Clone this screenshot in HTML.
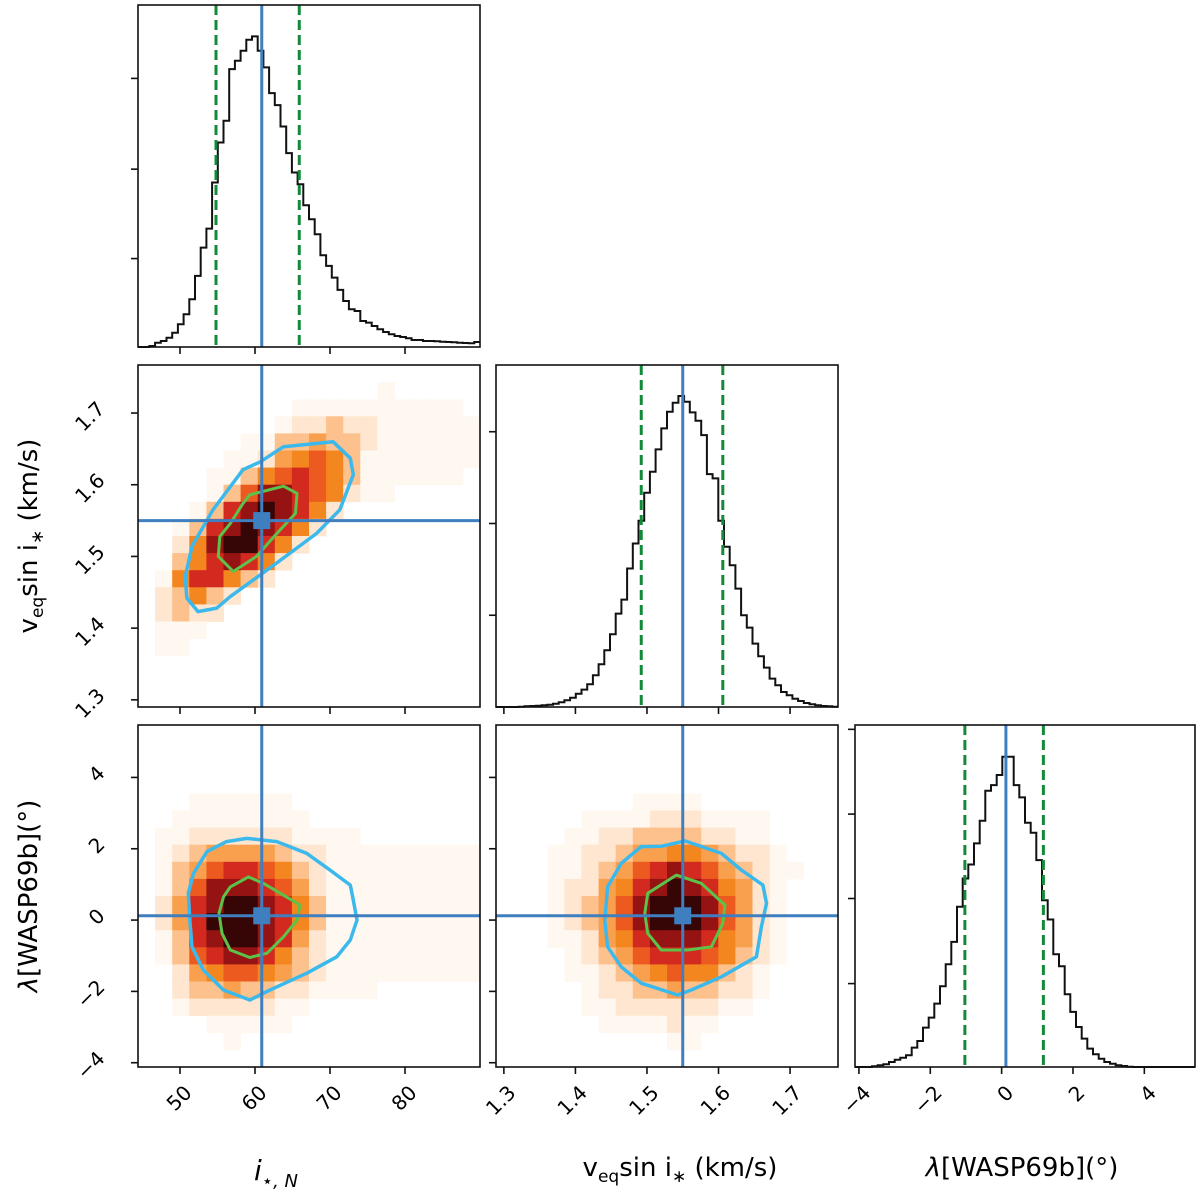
<!DOCTYPE html>
<html><head><meta charset="utf-8"><title>Corner plot</title>
<style>html,body{margin:0;padding:0;background:#fff;}svg{display:block;font-family:"DejaVu Sans","Liberation Sans",sans-serif;}</style>
</head><body>
<svg id="fig" width="1200" height="1196" viewBox="0 0 1200 1196" xmlns="http://www.w3.org/2000/svg">
<g id="heat"></g>
<g id="marks"></g>
<g id="axes"></g>
<text x="276" y="1180" font-size="28" text-anchor="middle" font-style="italic">i<tspan font-size="18" dy="7">⋆, N</tspan></text>
<text x="680" y="1176" font-size="26" text-anchor="middle">v<tspan font-size="17" dy="6">eq</tspan><tspan dy="-6">sin i</tspan><tspan font-size="17" dy="6">∗</tspan><tspan dy="-6"> (km/s)</tspan></text>
<text x="1022" y="1176" font-size="26" text-anchor="middle"><tspan font-style="italic">λ</tspan>[WASP69b](°)</text>
<text transform="translate(37,536) rotate(-90)" font-size="26" text-anchor="middle">v<tspan font-size="17" dy="6">eq</tspan><tspan dy="-6">sin i</tspan><tspan font-size="17" dy="6">∗</tspan><tspan dy="-6"> (km/s)</tspan></text>
<text transform="translate(37,896) rotate(-90)" font-size="26" text-anchor="middle"><tspan font-style="italic">λ</tspan>[WASP69b](°)</text>
</svg>
<script>
// ---------- data ----------
const incTicks = [50, 60, 70, 80];
const vTicks = [1.3, 1.4, 1.5, 1.6, 1.7];
const lamTicks = [-4, -2, 0, 2, 4];
const truthInc = 60.9;
const truthV = 1.55;
const truthLam = 0.12;
const qInc = [54.8, 65.9];
const qV = [1.492, 1.606];
const qLam = [-1.03, 1.17];
const histInc = [0,0,3,13,18,28,43,68,98,143,213,298,355,493,613,678,833,858,888,921,931,888,838,761,725,661,581,523,488,425,383,338,275,243,208,171,138,113,108,78,73,63,53,45,38,33,30,26,21,21,18,18,17,16,15,14,13,12,11,15];
const histV = [0,0,0,0,1,2,3,4,5,7,10,14,20,28,40,52,68,95,128,170,218,280,322,415,490,558,642,705,772,835,885,912,932,915,883,858,815,698,685,558,480,425,355,275,238,190,152,118,85,65,45,35,25,18,12,8,5,3,2,1];
const histLam = [0,0,0,2,5,8,15,22,28,35,58,78,118,148,190,242,308,375,480,565,607,670,738,828,845,875,930,930,845,808,732,702,620,500,442,338,302,218,165,120,85,55,38,25,15,10,5,3,1,0,0,0,0,0,0,0,0,0,0,0];
const histIncTicks = [265, 533, 805];
const histVTicks = [275, 550, 825];
const histLamTicks = [250, 505, 758, 1012];
const gridIncV = ["00000000000000000000","00000000000000100000","00000000011111111110","00000000122322111111","00000011334332111111","00000112456531111111","00001135676531111110","00001368876521100000","00013789875200000000","00137898752000000000","00258997520000000000","00357875200000000000","01577532000000000000","02353200000000000000","02322000000000000000","01110000000000000000","01100000000000000000","00000000000000000000","00000000000000000000","00000000000000000000"];
const gridIncLam = ["00000000000000000000","00000000000000000000","00000000000000000000","00000000000000000000","00011111100000000000","00111111110000000000","01122222211110000000","01234444322111111111","01346776532111111111","01368887642111111111","02478998753111111111","02479998753111111111","01378998742111111111","01367887532111111111","00245665432111111111","00233433221111000000","00122222110000000000","00001111100000000000","00000100000000000000","00000000000000000000"];
const gridVLam = ["00000000000000000000","00000000000000000000","00000000000000000000","00000000000000000000","00000000111100000000","00000111122211110000","00001122333322110000","00011223445543221000","00011234678764321100","00012245789875421000","00012346899986421000","00012346899986421000","00011245788875421000","00001234677765321000","00001123456553210000","00000122334332210000","00000112222221100000","00000011112110000000","00000000001100000000","00000000000000000000"];
const c1IncV = [[63.8,1.653],[70.4,1.660],[72.7,1.637],[73.1,1.614],[71.3,1.565],[68.2,1.532],[62.9,1.491],[56.7,1.444],[54.9,1.428],[52.4,1.423],[50.9,1.442],[50.7,1.472],[51.6,1.514],[54.4,1.565],[58.4,1.621],[60.7,1.632]];
const c2IncV = [[59.3,1.586],[63.8,1.598],[65.6,1.588],[65.4,1.560],[62.9,1.532],[60.2,1.500],[57.1,1.479],[55.1,1.500],[55.3,1.528],[56.7,1.546],[58.4,1.574]];
const c1IncLam = [[53.6,1.92],[56.2,2.2],[58.9,2.29],[62.9,2.2],[66.9,1.87],[70.0,1.40],[72.7,0.98],[73.1,0.56],[73.6,0.0],[72.7,-0.56],[70.9,-1.03],[66.9,-1.49],[62.0,-1.96],[59.3,-2.24],[55.8,-1.96],[53.1,-1.4],[51.6,-0.75],[51.3,0.0],[51.1,0.75],[51.8,1.31]];
const c2IncLam = [[56.7,0.93],[59.1,1.21],[61.1,1.03],[64.2,0.65],[66.0,0.42],[65.6,0.0],[63.8,-0.47],[61.6,-0.93],[59.3,-1.05],[56.7,-0.84],[55.6,-0.37],[55.2,0.19],[55.8,0.65]];
const c1VLam = [[1.492,2.06],[1.520,2.07],[1.553,2.22],[1.604,1.87],[1.632,1.40],[1.662,0.98],[1.667,0.47],[1.660,-0.19],[1.653,-1.03],[1.604,-1.59],[1.562,-1.96],[1.543,-2.10],[1.492,-1.77],[1.464,-1.31],[1.445,-0.75],[1.441,0.0],[1.445,0.93],[1.464,1.59]];
const c2VLam = [[1.501,0.75],[1.541,1.26],[1.576,1.03],[1.609,0.42],[1.606,-0.09],[1.590,-0.75],[1.557,-0.84],[1.520,-0.84],[1.501,-0.37],[1.497,0.19]];
const cmap = ["#ffffff","#fff8f1","#fee6d0","#fcc18c","#f9a04e","#f4861f","#ec5a20","#d22a1e","#961313","#360505"];

// ---------- helpers ----------
const NS = "http://www.w3.org/2000/svg";
function mk(tag, attrs, parent) { const e = document.createElementNS(NS, tag); for (const k in attrs) e.setAttribute(k, attrs[k]); parent.appendChild(e); return e; }
function lin(d0, d1, p0, p1) { return v => p0 + (v - d0) / (d1 - d0) * (p1 - p0); }
const X1 = {d:[44.4, 90.0], p:[138, 480]};
const X2 = {d:[1.289, 1.767], p:[496, 838]};
const X3 = {d:[-4.11, 5.42], p:[855, 1195]};
const Yv = {d:[1.29, 1.767], p:[707, 365]};
const Yl = {d:[-4.12, 5.47], p:[1067, 725]};
const heat = document.getElementById('heat');
const marks = document.getElementById('marks');
const axes = document.getElementById('axes');
const fmt = v => (v < 0 ? "\u2212" + Math.abs(v) : String(v));

function drawGrid(grid, X, Y, name) {
  const g = mk('g', {}, heat);
  
  
  const nr = grid.length, nc = grid[0].length;
  const sx = lin(X.d[0], X.d[1], X.p[0], X.p[1]);
  const sy = lin(Y.d[0], Y.d[1], Y.p[0], Y.p[1]);
  const dx = (X.d[1] - X.d[0]) / nc, dy = (Y.d[1] - Y.d[0]) / nr;
  for (let r = 0; r < nr; r++) for (let c = 0; c < nc; c++) {
    const lv = +grid[r][c];
    if (!lv) continue;
    const x0 = sx(X.d[0] + c * dx), x1 = sx(X.d[0] + (c + 1) * dx);
    const yTop = sy(Y.d[1] - r * dy), yBot = sy(Y.d[1] - (r + 1) * dy);
    const rc = mk('rect', {x: x0, y: yTop, width: x1 - x0 + 0.4, height: yBot - yTop + 0.4, fill: cmap[lv]}, g);
    
    
  }
}
function drawContour(pts, X, Y, color, w, name) {
  const sx = lin(X.d[0], X.d[1], X.p[0], X.p[1]);
  const sy = lin(Y.d[0], Y.d[1], Y.p[0], Y.p[1]);
  const d = pts.map((p, i) => (i ? 'L' : 'M') + sx(p[0]).toFixed(1) + ',' + sy(p[1]).toFixed(1)).join('') + 'Z';
  const e = mk('path', {d: d, fill: 'none', stroke: color, 'stroke-width': w, 'stroke-linejoin': 'round'}, marks);
  
  
}
function drawTruth2D(X, Y, tx, ty, name) {
  const sx = lin(X.d[0], X.d[1], X.p[0], X.p[1]);
  const sy = lin(Y.d[0], Y.d[1], Y.p[0], Y.p[1]);
  const px = sx(tx), py = sy(ty);
  const v = mk('line', {x1: px, x2: px, y1: Y.p[1], y2: Y.p[0], stroke: '#3f7fbf', 'stroke-width': 3}, marks);
  
  
  const h = mk('line', {x1: X.p[0], x2: X.p[1], y1: py, y2: py, stroke: '#3f7fbf', 'stroke-width': 3}, marks);
  
  
  const s = mk('rect', {x: px - 8.5, y: py - 8.5, width: 17, height: 17, fill: '#3f7fbf'}, marks);
  
  
}
const histRows = {'hist-inc': [5, 347], 'hist-vsini': [365, 707], 'hist-lambda': [725, 1067]};
function drawHist(vals, X, ymax, truth, q, name) {
  const top = histRows[name][0], bot = histRows[name][1];
  const sx = lin(X.d[0], X.d[1], X.p[0], X.p[1]);
  const sy = lin(0, ymax, bot, top);
  const n = vals.length, dx = (X.d[1] - X.d[0]) / n;
  let d = '';
  for (let i = 0; i < n; i++) {
    const x0 = sx(X.d[0] + i * dx), x1 = sx(X.d[0] + (i + 1) * dx), y = sy(vals[i]);
    d += (i ? 'L' : 'M') + x0.toFixed(1) + ',' + y.toFixed(1) + 'L' + x1.toFixed(1) + ',' + y.toFixed(1);
  }
  const p = mk('path', {d: d, fill: 'none', stroke: '#111', 'stroke-width': 2}, marks);
  
  
  q.forEach(qv => {
    const l = mk('line', {x1: sx(qv), x2: sx(qv), y1: top, y2: bot, stroke: '#128a3a', 'stroke-width': 3, 'stroke-dasharray': '10,5'}, marks);
    
    
  });
  const t = mk('line', {x1: sx(truth), x2: sx(truth), y1: top, y2: bot, stroke: '#3f7fbf', 'stroke-width': 3}, marks);
  
  
}
function frame(x0, x1, y0, y1, name) {
  const r = mk('rect', {x: x0, y: y0, width: x1 - x0, height: y1 - y0, fill: 'none', stroke: '#111', 'stroke-width': 1.6}, axes);
  
  
}
function xTicks(X, yb, ticks, labels, name) {
  const sx = lin(X.d[0], X.d[1], X.p[0], X.p[1]);
  ticks.forEach(t => {
    const x = sx(t);
    const l = mk('line', {x1: x, x2: x, y1: yb, y2: yb + 7, stroke: '#111', 'stroke-width': 1.6}, axes);
    
    
    if (labels) {
      const tx = mk('text', {x: 0, y: 0, 'font-size': 20, 'text-anchor': 'end', transform: 'translate(' + (x + 13) + ',' + (yb + 27) + ') rotate(-45)'}, axes);
      tx.textContent = fmt(t);
      
      
    }
  });
}
function yTicks(sy, xl, ticks, labels, name) {
  ticks.forEach(t => {
    const y = sy(t);
    const l = mk('line', {x1: xl - 7, x2: xl, y1: y, y2: y, stroke: '#111', 'stroke-width': 1.6}, axes);
    
    
    if (labels) {
      const tx = mk('text', {x: 0, y: 0, 'font-size': 20, 'text-anchor': 'end', transform: 'translate(' + (xl - 32) + ',' + (y - 3) + ') rotate(-45)'}, axes);
      tx.textContent = fmt(t);
      
      
    }
  });
}

// ---------- draw ----------
drawGrid(gridIncV, X1, Yv, 'heatmap-inc-vsini');
drawGrid(gridIncLam, X1, Yl, 'heatmap-inc-lambda');
drawGrid(gridVLam, X2, Yl, 'heatmap-vsini-lambda');
drawContour(c1IncV, X1, Yv, '#3cb9ec', 3.5, 'contour-outer-inc-vsini');
drawContour(c2IncV, X1, Yv, '#5cc24a', 3, 'contour-inner-inc-vsini');
drawContour(c1IncLam, X1, Yl, '#3cb9ec', 3.5, 'contour-outer-inc-lambda');
drawContour(c2IncLam, X1, Yl, '#5cc24a', 3, 'contour-inner-inc-lambda');
drawContour(c1VLam, X2, Yl, '#3cb9ec', 3.5, 'contour-outer-vsini-lambda');
drawContour(c2VLam, X2, Yl, '#5cc24a', 3, 'contour-inner-vsini-lambda');
drawTruth2D(X1, Yv, truthInc, truthV, 'inc-vsini');
drawTruth2D(X1, Yl, truthInc, truthLam, 'inc-lambda');
drawTruth2D(X2, Yl, truthV, truthLam, 'vsini-lambda');
drawHist(histInc, X1, 1025, truthInc, qInc, 'hist-inc');
drawHist(histV, X2, 1025, truthV, qV, 'hist-vsini');
drawHist(histLam, X3, 1025, truthLam, qLam, 'hist-lambda');

frame(138, 480, 5, 347, 'panel-hist-inc');
frame(138, 480, 365, 707, 'panel-inc-vsini');
frame(496, 838, 365, 707, 'panel-hist-vsini');
frame(138, 480, 725, 1067, 'panel-inc-lambda');
frame(496, 838, 725, 1067, 'panel-vsini-lambda');
frame(855, 1195, 725, 1067, 'panel-hist-lambda');

xTicks(X1, 347, incTicks, false, 'hist-inc-x');
xTicks(X1, 707, incTicks, false, 'inc-vsini-x');
xTicks(X2, 707, vTicks, false, 'hist-vsini-x');
xTicks(X1, 1067, incTicks, true, 'x-axis-inc');
xTicks(X2, 1067, vTicks, true, 'x-axis-vsini');
xTicks(X3, 1067, lamTicks, true, 'x-axis-lambda');
yTicks(lin(Yv.d[0], Yv.d[1], Yv.p[0], Yv.p[1]), 138, vTicks, true, 'y-axis-vsini');
yTicks(lin(Yl.d[0], Yl.d[1], Yl.p[0], Yl.p[1]), 138, lamTicks, true, 'y-axis-lambda');
yTicks(lin(Yl.d[0], Yl.d[1], Yl.p[0], Yl.p[1]), 496, lamTicks, false, 'vsini-lambda-y');
yTicks(lin(0, 1025, 347, 5), 138, histIncTicks, false, 'hist-inc-y');
yTicks(lin(0, 1025, 707, 365), 496, histVTicks, false, 'hist-vsini-y');
yTicks(lin(0, 1025, 1067, 725), 855, histLamTicks, false, 'hist-lambda-y');
</script>
</body></html>
